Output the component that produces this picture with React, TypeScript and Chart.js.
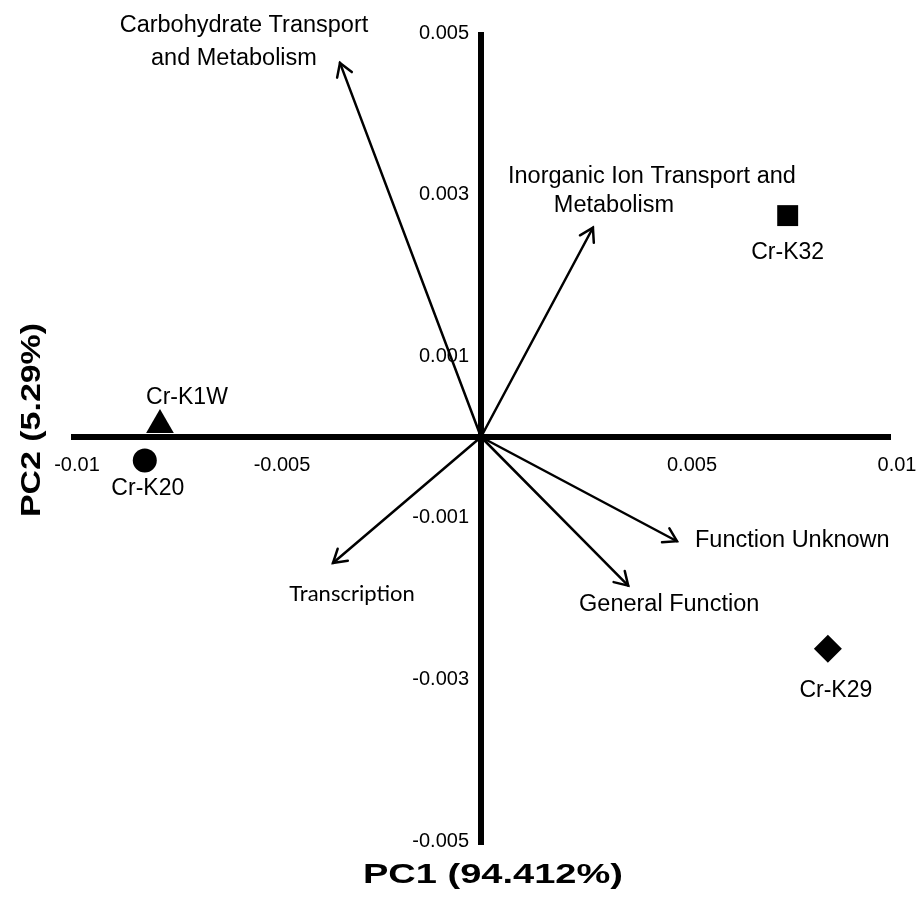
import React, { useEffect, useRef } from 'react';
import { Chart, registerables } from 'chart.js';

Chart.register(...registerables);

// ---- data ----
const sampleNames = ['Cr-K1W', 'Cr-K20', 'Cr-K32', 'Cr-K29'];
const sampleX = [-0.00783, -0.0082, 0.00748, 0.00846];
const sampleY = [0.00015, -0.00029, 0.00274, -0.00262];
const sampleShapes = ['triangle', 'circle', 'rect', 'rectRot'];

const loadingNames = [
  ['Carbohydrate Transport', 'and Metabolism'],
  ['Inorganic Ion Transport and', 'Metabolism'],
  ['Function Unknown'],
  ['General Function'],
  ['Transcription'],
];
const loadingX = [-0.00344, 0.00273, 0.00478, 0.00359, -0.00361];
const loadingY = [0.00463, 0.00259, -0.00129, -0.00184, -0.00156];

const xTickValues = [-0.01, -0.005, 0.005, 0.01];
const yTickValues = [0.005, 0.003, 0.001, -0.001, -0.003, -0.005];
const xTitle = 'PC1 (94.412%)';
const yTitle = 'PC2 (5.29%)';

// ---- layout (pixel offsets of text relative to anchors) ----
const sampleRadii = [16, 12, 14.8, 14];
const sampleLabelOffsets = [
  [27, -21],
  [3, 35],
  [0, 43],
  [8, 48],
];
const loadingLabelOffsets = [
  [[-96, -31, 'center'], [-106, 2, 'center']],
  [[59, -45, 'center'], [21, -16, 'center']],
  [[18, 6, 'left']],
  [[41, 25, 'center']],
  [[19, 38, 'center']],
];
const loadingFonts = [
  "23.5px 'Liberation Sans', Arial, sans-serif",
  "23.5px 'Liberation Sans', Arial, sans-serif",
  "23.5px 'Liberation Sans', Arial, sans-serif",
  "23.5px 'Liberation Sans', Arial, sans-serif",
  "22px Lato, 'Liberation Sans', sans-serif",
];

const biplotPlugin = {
  id: 'biplot',
  beforeDatasetsDraw(chart: any) {
    const { ctx } = chart;
    const xs = chart.scales.x;
    const ys = chart.scales.y;
    const ox = xs.getPixelForValue(0);
    const oy = ys.getPixelForValue(0);
    ctx.save();
    // axes
    ctx.fillStyle = '#000';
    const left = xs.getPixelForValue(-0.01);
    const right = xs.getPixelForValue(0.01);
    ctx.fillRect(left, oy - 3, right - left, 6);
    const top = ys.getPixelForValue(0.005);
    const bottom = ys.getPixelForValue(-0.005);
    ctx.fillRect(ox - 3, top - 1, 6, bottom - top + 5);

    // tick labels
    ctx.font = "20px 'Liberation Sans', Arial, sans-serif";
    ctx.textAlign = 'center';
    ctx.textBaseline = 'alphabetic';
    xTickValues.forEach((v) => {
      ctx.fillText(String(v), xs.getPixelForValue(v) + 6, oy + 34);
    });
    ctx.textAlign = 'right';
    ctx.textBaseline = 'middle';
    yTickValues.forEach((v) => {
      ctx.fillText(String(v), ox - 12, ys.getPixelForValue(v));
    });

    // arrows
    ctx.strokeStyle = '#000';
    ctx.lineWidth = 2.5;
    ctx.lineCap = 'round';
    loadingX.forEach((lx, i) => {
      const tx = xs.getPixelForValue(lx);
      const ty = ys.getPixelForValue(loadingY[i]);
      ctx.beginPath();
      ctx.moveTo(ox, oy);
      ctx.lineTo(tx, ty);
      ctx.stroke();
      const a = Math.atan2(ty - oy, tx - ox);
      const len = 15;
      const spread = 0.55;
      ctx.beginPath();
      ctx.moveTo(tx + len * Math.cos(a + Math.PI - spread), ty + len * Math.sin(a + Math.PI - spread));
      ctx.lineTo(tx, ty);
      ctx.lineTo(tx + len * Math.cos(a + Math.PI + spread), ty + len * Math.sin(a + Math.PI + spread));
      ctx.stroke();
    });
    ctx.restore();
  },
  afterDraw(chart: any) {
    const { ctx } = chart;
    const xs = chart.scales.x;
    const ys = chart.scales.y;
    ctx.save();
    ctx.fillStyle = '#000';
    ctx.textBaseline = 'alphabetic';
    // sample labels
    ctx.font = "23px 'Liberation Sans', Arial, sans-serif";
    ctx.textAlign = 'center';
    sampleNames.forEach((n, i) => {
      const px = xs.getPixelForValue(sampleX[i]);
      const py = ys.getPixelForValue(sampleY[i]);
      ctx.fillText(n, px + sampleLabelOffsets[i][0], py + sampleLabelOffsets[i][1]);
    });
    // loading labels
    loadingNames.forEach((lines, i) => {
      const tx = xs.getPixelForValue(loadingX[i]);
      const ty = ys.getPixelForValue(loadingY[i]);
      ctx.font = loadingFonts[i];
      lines.forEach((t, j) => {
        const o: any = loadingLabelOffsets[i][j];
        ctx.textAlign = o[2];
        ctx.fillText(t, tx + o[0], ty + o[1]);
      });
    });
    // axis titles
    ctx.font = "bold 28px 'Liberation Sans', Arial, sans-serif";
    ctx.textAlign = 'center';
    const w1 = ctx.measureText(xTitle).width;
    ctx.save();
    ctx.translate(493, 883);
    ctx.scale(260 / w1, 1);
    ctx.fillText(xTitle, 0, 0);
    ctx.restore();
    const w2 = ctx.measureText(yTitle).width;
    ctx.save();
    ctx.translate(40, 420);
    ctx.rotate(-Math.PI / 2);
    ctx.scale(194 / w2, 1);
    ctx.fillText(yTitle, 0, 0);
    ctx.restore();
    ctx.restore();
  },
};

export default function App() {
  const ref = useRef<HTMLCanvasElement | null>(null);
  useEffect(() => {
    document.body.style.margin = '0';
    const canvas = ref.current;
    if (!canvas) return;
    const chart = new Chart(canvas, {
      type: 'scatter',
      data: {
        datasets: sampleNames.map((n, i) => ({
          label: n,
          data: [{ x: sampleX[i], y: sampleY[i] }],
          pointStyle: sampleShapes[i] as any,
          pointRadius: sampleRadii[i],
          pointHoverRadius: sampleRadii[i],
          backgroundColor: '#000',
          borderColor: '#000',
          borderWidth: 0,
        })),
      },
      options: {
        animation: false,
        responsive: false,
        devicePixelRatio: 1,
        layout: { padding: { left: 71, right: 27, top: 33, bottom: 61 } },
        plugins: { legend: { display: false }, tooltip: { enabled: false } },
        scales: {
          x: { type: 'linear', min: -0.01, max: 0.01, display: false },
          y: { type: 'linear', min: -0.005, max: 0.005, display: false },
        },
      },
      plugins: [biplotPlugin],
    });
    return () => chart.destroy();
  }, []);
  return <canvas ref={ref} width={918} height={902} style={{ display: 'block' }} />;
}
